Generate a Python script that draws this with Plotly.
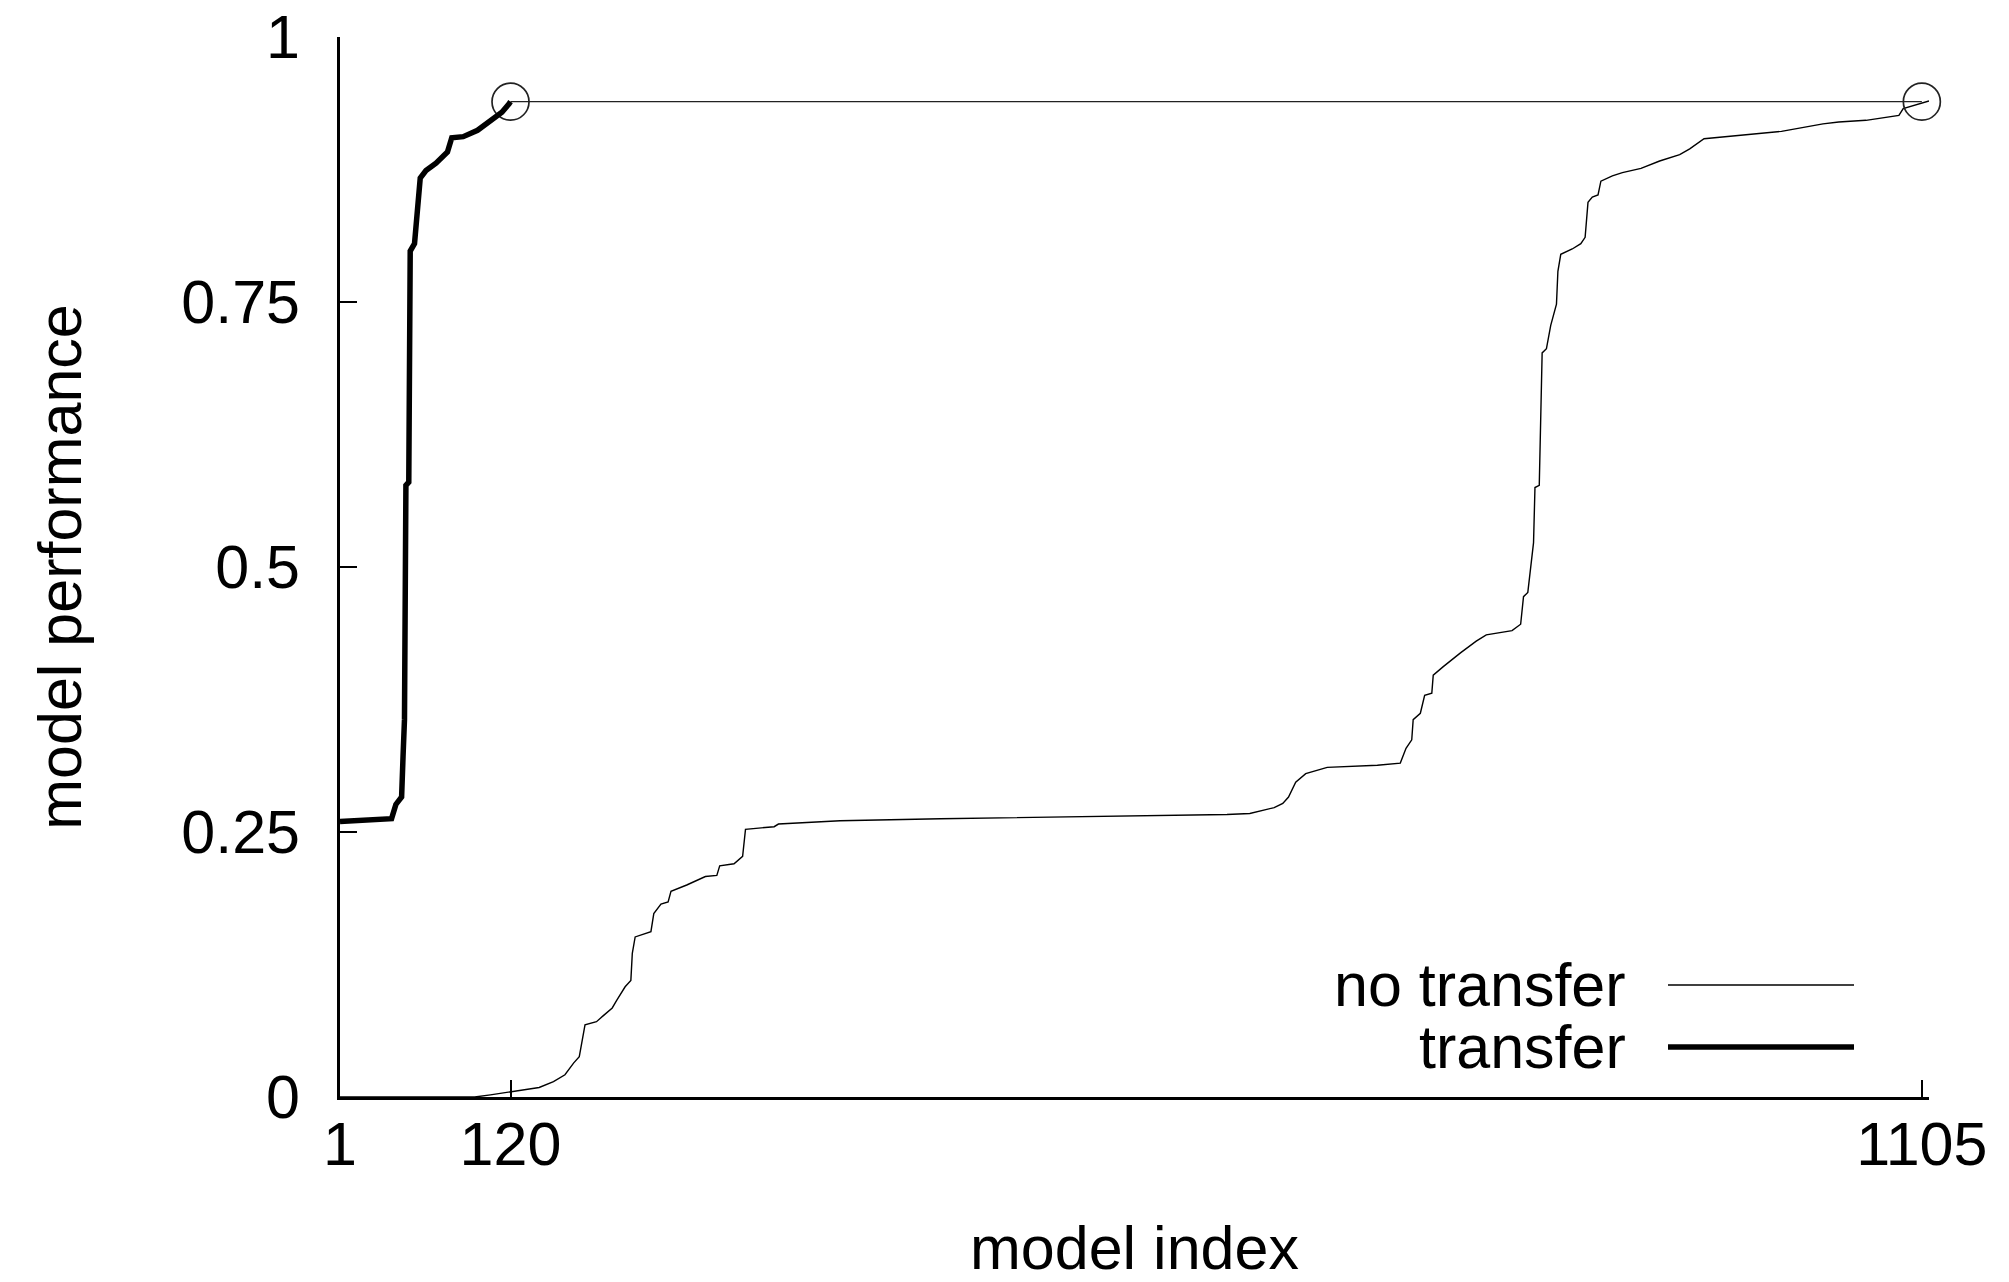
import plotly.graph_objects as go

# ---- data ----
no_transfer_idx = [1, 60, 95, 106, 120, 140, 150, 158, 164, 168, 172, 180, 185, 191, 194, 200, 204, 205, 207,
                   218, 220, 225, 230, 232, 243, 256, 264, 266, 276, 282, 284, 304, 307, 350, 420, 500, 560,
                   600, 620, 636, 653, 659, 663, 668, 675, 690, 725, 741, 745, 749, 750, 755, 758, 763, 764,
                   771, 783, 794, 801, 819, 825, 827, 830, 834, 835, 838, 840, 843, 846, 850, 851, 853, 861,
                   867, 870, 872, 875, 879, 881, 889, 896, 909, 922, 936, 943, 953, 972, 1007, 1036, 1047,
                   1066, 1089, 1092, 1101, 1110]
no_transfer_val = [0.0, 0.0, 0.0, 0.002, 0.005, 0.009, 0.0145, 0.021, 0.032, 0.038, 0.068, 0.071, 0.077, 0.084,
                   0.091, 0.104, 0.110, 0.1355, 0.151, 0.156, 0.173, 0.182, 0.184, 0.194, 0.200, 0.208, 0.209,
                   0.218, 0.220, 0.227, 0.2525, 0.255, 0.2575, 0.2606, 0.2625, 0.264, 0.265, 0.266, 0.2665,
                   0.2675, 0.273, 0.277, 0.283, 0.297, 0.305, 0.311, 0.313, 0.315, 0.329, 0.337, 0.356, 0.362,
                   0.379, 0.381, 0.398, 0.406, 0.419, 0.430, 0.436, 0.440, 0.446, 0.472, 0.476, 0.523, 0.575,
                   0.577, 0.702, 0.706, 0.728, 0.748, 0.779, 0.795, 0.800, 0.805, 0.811, 0.844, 0.849, 0.851,
                   0.864, 0.869, 0.872, 0.876, 0.883, 0.889, 0.8945, 0.904, 0.9065, 0.911, 0.918, 0.9198,
                   0.9214, 0.926, 0.9325, 0.936, 0.9397]

transfer_idx = [1, 37, 40, 44, 45, 46, 47, 49, 50, 53, 57, 61, 68, 76, 79, 87, 97, 104, 109, 114, 119, 120]
transfer_val = [0.26, 0.2626, 0.276, 0.283, 0.321, 0.356, 0.577, 0.580, 0.798, 0.805, 0.867, 0.874, 0.881,
                0.8915, 0.905, 0.906, 0.912, 0.919, 0.924, 0.929, 0.937, 0.939]

best_idx = [120, 1105]
best_val = [0.939, 0.939]

x_tickvals = [1, 120, 1105]
x_ticktext = ["1", "120", "1105"]
y_tickvals = [0, 0.25, 0.5, 0.75, 1]
y_ticktext = ["0", "0.25", "0.5", "0.75", "1"]

series_names = ["no transfer", "transfer"]

FONT = "Liberation Sans, Arial, Helvetica, sans-serif"
FS = 61

fig = go.Figure()
fig.add_trace(go.Scatter(x=no_transfer_idx, y=no_transfer_val, mode="lines", name=series_names[0],
                         line=dict(color="black", width=1.4), showlegend=False))
fig.add_trace(go.Scatter(x=best_idx, y=best_val, mode="lines+markers", name="best",
                         line=dict(color="#222", width=1.3),
                         marker=dict(symbol="circle-open", size=37, color="#222", line=dict(width=1.7)),
                         showlegend=False, cliponaxis=False))
fig.add_trace(go.Scatter(x=transfer_idx, y=transfer_val, mode="lines", name=series_names[1],
                         line=dict(color="black", width=5.5), showlegend=False))

# page body has an 8px default margin: shrink the figure and shift everything by it
OFF = 8
W, H = 2009 - OFF, 1282 - OFF
ml, mt = 340 - OFF, 37 - OFF
mr = W - (1929 - OFF)
mb = H - (1097 - OFF)
pw, ph = W - ml - mr, H - mt - mb

def px(xp):  # xp: pixel in the 2009x1282 window
    return (xp - OFF - ml) / pw

def py(yp):
    return (H - mb - (yp - OFF)) / ph

# manual legend (text left of the sample line, as in the reference)
legend_rows = [(985, 1.4), (1047, 5.5)]
for name, (yrow, lw) in zip(series_names, legend_rows):
    fig.add_annotation(xref="paper", yref="paper", x=px(1628), y=py(yrow), text=name, showarrow=False,
                       xanchor="right", yanchor="middle", font=dict(family=FONT, size=FS, color="black"))
    fig.add_shape(type="line", xref="paper", yref="paper", x0=px(1668), x1=px(1854), y0=py(yrow), y1=py(yrow),
                  line=dict(color="black", width=lw))

fig.update_layout(
    width=W, height=H,
    margin=dict(l=ml, r=mr, t=mt, b=mb),
    plot_bgcolor="white", paper_bgcolor="white",
    font=dict(family=FONT, size=FS, color="black"),
    xaxis=dict(range=[1, 1110], tickvals=x_tickvals, ticktext=x_ticktext, ticks="inside", ticklen=17,
               tickwidth=1.8, tickcolor="black", showline=True, linecolor="black", linewidth=2.7,
               showgrid=False, zeroline=False, automargin=False, ticklabelstandoff=-8,
               ticklabeloverflow="allow",
               title=dict(text="model index", font=dict(family=FONT, size=FS), standoff=82)),
    yaxis=dict(range=[0, 1], tickvals=y_tickvals, ticktext=y_ticktext, ticks="inside", ticklen=17,
               tickwidth=2, tickcolor="black", showline=True, linecolor="black", linewidth=2.5,
               showgrid=False, zeroline=False, automargin=False, ticklabelstandoff=25,
               ticklabeloverflow="allow",
               title=dict(text="model performance", font=dict(family=FONT, size=FS), standoff=80)),
)

fig.write_html("out.html")
